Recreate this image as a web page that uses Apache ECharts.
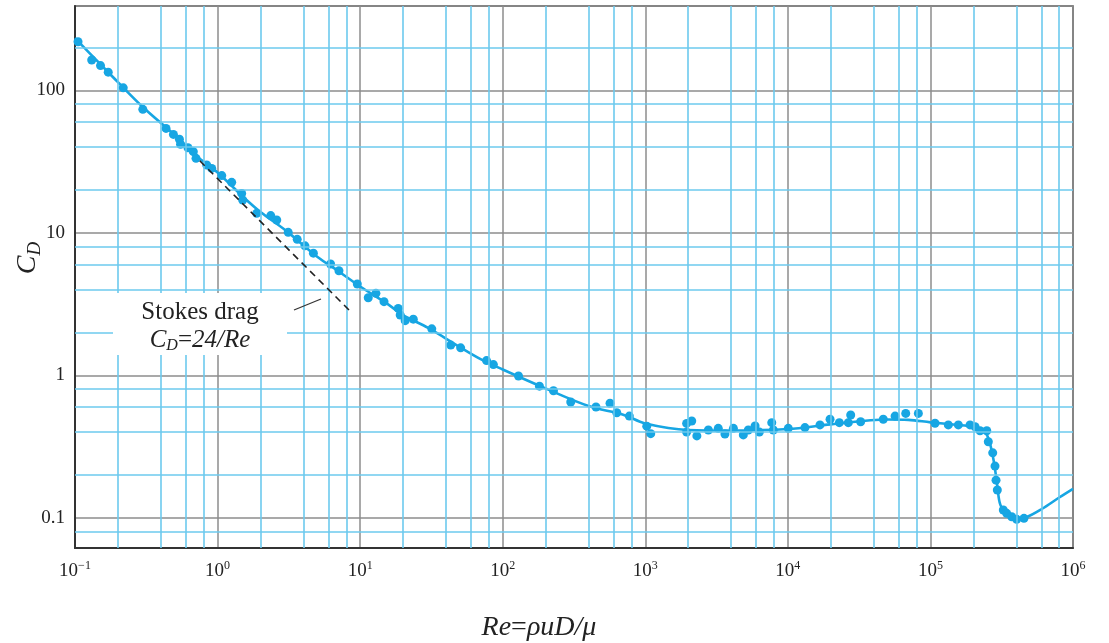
<!DOCTYPE html>
<html><head><meta charset="utf-8">
<script src="https://cdn.jsdelivr.net/npm/echarts@6/dist/echarts.min.js"></script>
<style>html,body{margin:0;padding:0;background:#fff}#c{width:1109px;height:643px}</style>
</head><body><div id="c"></div>
<script>
// ---- data ----
const yTickLabels = ['0.1', '1', '10', '100'];
const xMinorGrid = [0.2,0.4,0.6,0.8, 2,4,6,8, 20,40,60,80, 200,400,600,800, 2000,4000,6000,8000, 2e4,4e4,6e4,8e4, 2e5,4e5,6e5,8e5];
const yMinorGrid = [0.08, 0.2,0.4,0.6,0.8, 2,4,6,8, 20,40,60,80, 200];
const measuredRe = [0.105,0.131,0.151,0.171,0.218,0.299,0.435,0.49,0.54,0.55,0.62,0.676,0.706,0.839,0.91,1.07,1.256,1.476,1.5,1.88,2.36,2.6,3.13,3.62,4.1,4.7,6.2,7.1,9.55,11.4,12.9,14.7,18.5,19.1,20.7,23.6,31.8,43.2,50.7,77,86,129,181,227,300,451,566,631,773,1024,1092,
  1950,2117,1950,2300,2770,3250,3620,4150,4870,5280,5890,6310,7710,7910,10070,13180,16800,19770,22970,26550,27600,32400,46700,56500,67100,82300,107700,
  133500,157000,189600,205600,222800,248400,254700,273500,283800,288500,294600,324500,342700,371500,402700,453000];
const measuredCD = [219,163,149,134,104,73.5,54,49,45.3,41.8,39.5,37.1,33.3,29.9,28.3,25.2,22.6,18.9,17.0,13.7,13.2,12.3,10.07,9.0,8.1,7.2,6.04,5.42,4.37,3.5,3.76,3.29,2.95,2.65,2.42,2.48,2.12,1.63,1.56,1.27,1.19,0.99,0.84,0.78,0.65,0.60,0.637,0.547,0.518,0.44,0.39,
  0.46,0.478,0.40,0.376,0.414,0.425,0.388,0.425,0.382,0.414,0.441,0.40,0.466,0.414,0.425,0.43,0.449,0.492,0.466,0.466,0.527,0.473,0.492,0.518,0.541,0.541,0.461,
  0.449,0.449,0.449,0.436,0.409,0.409,0.342,0.286,0.231,0.184,0.157,0.1136,0.1077,0.1019,0.0977,0.0993];
const curveRe = [0.1,0.15,0.2,0.3,0.5,0.7,1,1.5,2,3,5,7,10,15,20,30,50,70,100,200,400,700,1000,2000,4000,1e4,2e4,5e4,7e4,1e5,1.5e5,2e5,2.3e5,2.5e5,2.65e5,2.8e5,2.95e5,3.1e5,3.5e5,4e5,4.7e5,6e5,8e5,1e6];
const curveCD = [232,153,114,76,48.5,35,26.5,18,14,10.4,6.8,5.4,4.2,3.25,2.65,2.15,1.58,1.3,1.1,0.81,0.61,0.53,0.46,0.414,0.41,0.42,0.453,0.49,0.487,0.468,0.45,0.435,0.409,0.38,0.316,0.241,0.166,0.123,0.105,0.098,0.101,0.115,0.139,0.16];
const stokesRe = [0.75, 8.7];
const stokesCD = [32, 2.76];

const SERIF = '"Liberation Serif","DejaVu Serif",serif';
const CYAN = '#6ccaee';
const BLUE = '#17a6e3';
const zip = (a, b) => a.map((v, i) => [v, b[i]]);

const chart = echarts.init(document.getElementById('c'), null, {renderer: 'canvas'});
chart.setOption({
  animation: false,
  backgroundColor: '#fff',
  grid: {left: 75, right: 36, top: 6, bottom: 95, show: true, borderColor: '#444', borderWidth: 1.5, containLabel: false, outerBoundsMode: 'none'},
  xAxis: {
    type: 'log', logBase: 10, min: 0.1, max: 1e6,
    axisLine: {show: true, lineStyle: {color: '#333', width: 2}},
    axisTick: {show: false},
    splitLine: {show: true, lineStyle: {color: '#8c8c8c', width: 1.5}},
    axisLabel: {
      margin: 12, color: '#222',
      formatter: v => { const e = Math.round(Math.log10(v)); return '{b|10}{s|' + (e < 0 ? '\u2212' + (-e) : e) + '}'; },
      rich: {
        b: {fontSize: 19, lineHeight: 22, fontFamily: SERIF, color: '#222'},
        s: {fontSize: 12, lineHeight: 14, verticalAlign: 'top', fontFamily: SERIF, color: '#222'}
      }
    },
    name: '{i|Re}{n|=}{i|\u03c1uD/\u03bc}',
    nameLocation: 'middle', nameGap: 64,
    nameTextStyle: {
      padding: [0, 70, 0, 0],
      rich: {
        i: {fontSize: 28, fontStyle: 'italic', fontFamily: SERIF, color: '#222', lineHeight: 32},
        n: {fontSize: 28, fontFamily: SERIF, color: '#222', lineHeight: 32}
      }
    }
  },
  yAxis: {
    type: 'log', logBase: 10, min: 0.0615, max: 390,
    axisLine: {show: true, lineStyle: {color: '#333', width: 2}},
    axisTick: {show: false},
    splitLine: {show: true, lineStyle: {color: '#8c8c8c', width: 1.5}},
    axisLabel: {
      margin: 10, fontSize: 19, fontFamily: SERIF, color: '#222',
      formatter: v => { const e = Math.log10(v); if (Math.abs(e - Math.round(e)) > 1e-6) return ''; return yTickLabels[Math.round(e) + 1] || ''; }
    },
    name: '{c|C}{d|D}',
    nameLocation: 'middle', nameGap: 31, nameMoveOverlap: false,
    nameTextStyle: {
      padding: [0, 0, 0, 38],
      rich: {
        c: {fontSize: 28, fontStyle: 'italic', fontFamily: SERIF, color: '#222', lineHeight: 32},
        d: {fontSize: 19, fontStyle: 'italic', fontFamily: SERIF, color: '#222', lineHeight: 24, verticalAlign: 'bottom'}
      }
    }
  },
  series: [
    {
      type: 'line', data: [], silent: true, z: 1,
      markLine: {
        silent: true, symbol: ['none', 'none'], label: {show: false}, animation: false,
        lineStyle: {color: CYAN, width: 1.6, type: 'solid'},
        emphasis: {disabled: true},
        data: xMinorGrid.map(v => ({xAxis: v})).concat(yMinorGrid.map(v => ({yAxis: v})))
      }
    },
    {
      type: 'line', data: zip(curveRe, curveCD), smooth: 0.35, showSymbol: false, z: 3,
      lineStyle: {color: BLUE, width: 2.6}
    },
    {
      type: 'scatter', data: zip(measuredRe, measuredCD), symbol: 'circle', symbolSize: 9, z: 4,
      itemStyle: {color: BLUE, opacity: 1}
    },
    {
      type: 'line', data: zip(stokesRe, stokesCD), showSymbol: false, z: 5,
      lineStyle: {color: '#222', width: 1.6, type: [7, 5]}
    }
  ],
  graphic: [
    {type: 'rect', z: 100, shape: {x: 113, y: 293, width: 174, height: 62}, style: {fill: '#fff'}},
    {type: 'line', z: 101, shape: {x1: 294, y1: 310, x2: 321, y2: 299}, style: {stroke: '#333', lineWidth: 1.2}},
    {type: 'text', z: 101, x: 200, y: 312, style: {text: 'Stokes drag', fontSize: 25, fontFamily: SERIF, fill: '#222', align: 'center', verticalAlign: 'middle', textAlign: 'center', textVerticalAlign: 'middle'}},
    {type: 'text', z: 101, x: 200, y: 340, style: {
      text: '{c|C}{d|D}{n|=}{c|24/Re}', align: 'center', verticalAlign: 'middle', textAlign: 'center', textVerticalAlign: 'middle', fill: '#222',
      rich: {
        c: {fontSize: 25, fontStyle: 'italic', fontFamily: SERIF, fill: '#222', lineHeight: 28},
        d: {fontSize: 16, fontStyle: 'italic', fontFamily: SERIF, fill: '#222', lineHeight: 22, verticalAlign: 'bottom'},
        n: {fontSize: 25, fontFamily: SERIF, fill: '#222', lineHeight: 28}
      }
    }}
  ]
});
</script></body></html>
